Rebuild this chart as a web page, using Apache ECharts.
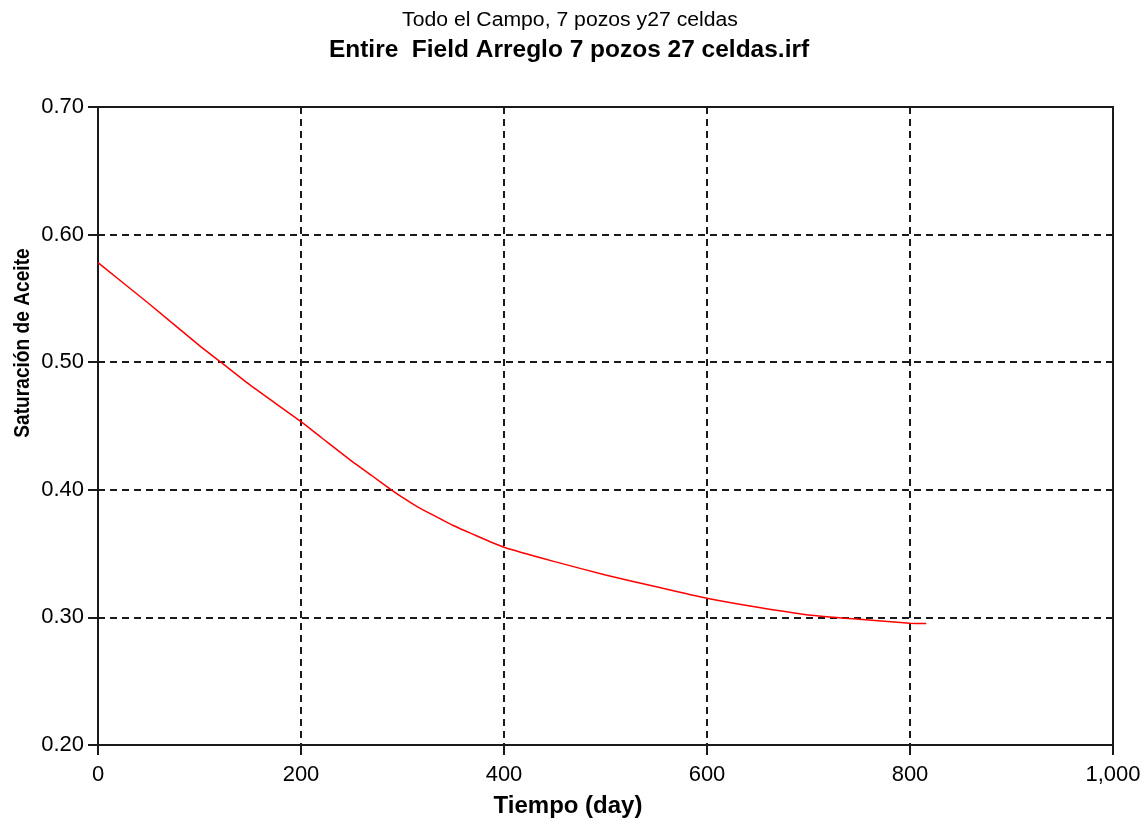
<!DOCTYPE html>
<html>
<head>
<meta charset="utf-8">
<script src="https://cdn.jsdelivr.net/npm/echarts@6/dist/echarts.min.js"></script>
<style>html,body{margin:0;padding:0;background:#fff;}#c{width:1146px;height:824px;}</style>
</head>
<body>
<div id="c"></div>
<script>
const titleLine1 = "Todo el Campo, 7 pozos y27 celdas";
const titleLine2 = "Entire  Field Arreglo 7 pozos 27 celdas.irf";
const xAxisName = "Tiempo (day)";
const yAxisName = "Saturación de Aceite";
const days =   [0,     50,    100,   121,   150,   200,    220,   250,    270,   289,   300,   314,   339,   350,   367,   400,   450,    500,    550,    600,    650,    700,    750,    800,    816];
const oilSat = [0.578, 0.546, 0.513, 0.500, 0.482, 0.4534, 0.441, 0.4225, 0.411, 0.400, 0.394, 0.387, 0.3765, 0.372, 0.366, 0.355, 0.3437, 0.3333, 0.3240, 0.3150, 0.3079, 0.3019, 0.2985, 0.2955, 0.2953];
const xTicks = [0, 200, 400, 600, 800, 1000];
const yTicks = [0.2, 0.3, 0.4, 0.5, 0.6, 0.7];

const chart = echarts.init(document.getElementById('c'), null, {renderer: 'canvas'});
const font = 'Liberation Sans, Arial, sans-serif';
const dark = '#1a1a1a';
chart.setOption({
  animation: false,
  backgroundColor: '#fff',
  graphic: [
    {type: 'text', x: 570, y: 20, scaleX: 1.06, style: {text: titleLine1, font: '20px ' + font, fill: '#000', align: 'center', verticalAlign: 'middle'}},
    {type: 'text', x: 569, y: 50, scaleX: 1.02, style: {text: titleLine2, font: 'bold 24px ' + font, fill: '#000', align: 'center', verticalAlign: 'middle'}},
    {type: 'text', x: 23, y: 343, rotation: Math.PI / 2, scaleX: 0.87, style: {text: yAxisName, font: 'bold 22px ' + font, fill: '#000', align: 'center', verticalAlign: 'middle'}},
    {type: 'text', x: 568, y: 806, style: {text: xAxisName, font: 'bold 24px ' + font, fill: '#000', align: 'center', verticalAlign: 'middle'}}
  ],
  grid: {left: 98, top: 107, right: 33, bottom: 79, show: true, borderColor: dark, borderWidth: 2, backgroundColor: 'transparent'},
  xAxis: {
    type: 'value', min: xTicks[0], max: xTicks[xTicks.length - 1], interval: 200,
    axisLine: {show: true, onZero: false, lineStyle: {color: dark, width: 2}},
    axisTick: {show: true, inside: false, length: 10, lineStyle: {color: dark, width: 2}},
    axisLabel: {color: '#000', fontSize: 22, fontFamily: font, margin: 19,
      formatter: v => v.toLocaleString('en-US')},
    splitLine: {show: true, lineStyle: {color: dark, type: [7, 5], width: 2}}
  },
  yAxis: {
    type: 'value', min: yTicks[0], max: yTicks[yTicks.length - 1], interval: 0.1,
    axisLine: {show: true, onZero: false, lineStyle: {color: dark, width: 2}},
    axisTick: {show: true, inside: false, length: 10, lineStyle: {color: dark, width: 2}},
    axisLabel: {color: '#000', fontSize: 22, fontFamily: font, margin: 14,
      formatter: v => v.toFixed(2)},
    splitLine: {show: true, lineStyle: {color: dark, type: [7, 5], width: 2}}
  },
  series: [{
    type: 'line', data: days.map((d, i) => [d, oilSat[i]]), smooth: 0.2,
    showSymbol: false, lineStyle: {color: '#ff0000', width: 1.5}
  }]
});
</script>
</body>
</html>
